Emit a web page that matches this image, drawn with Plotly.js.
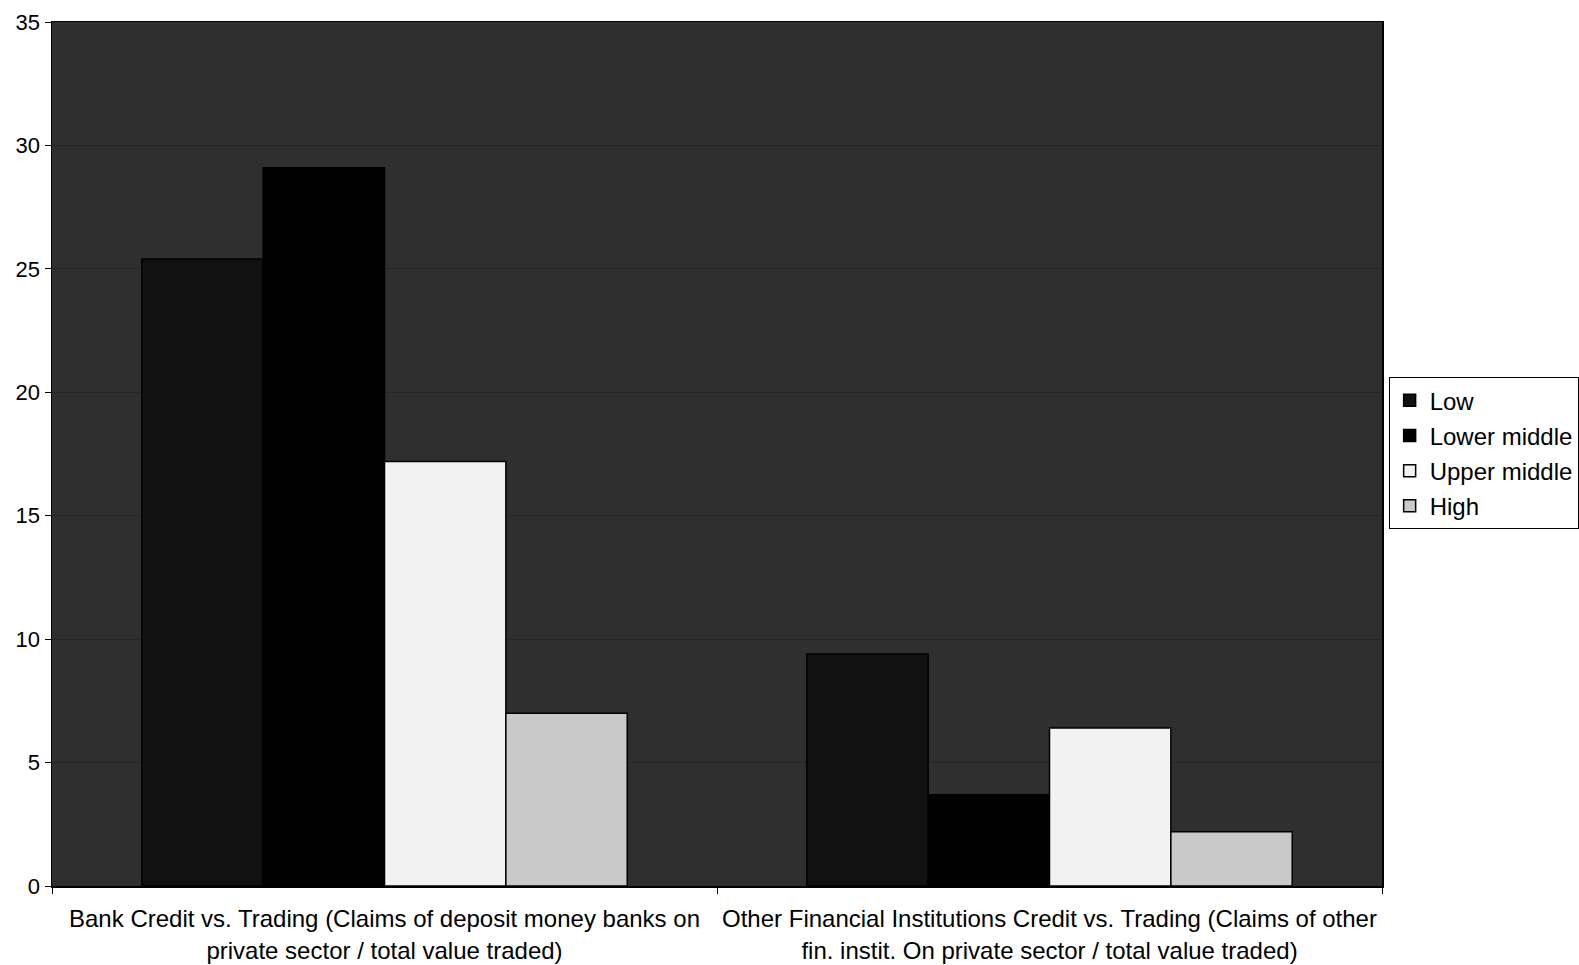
<!DOCTYPE html>
<html>
<head>
<meta charset="utf-8">
<script src="https://cdn.plot.ly/plotly-3.0.1.min.js"></script>
<style>
  html, body { margin: 0; padding: 0; background: #ffffff; }
  #chart { width: 1579px; height: 965px; }
</style>
</head>
<body>
<div id="chart"></div>
<script>
// Ratio of credit to value traded, by income group
const categories = [
  "Bank Credit vs. Trading (Claims of deposit money banks on<br>private sector / total value traded)",
  "Other Financial Institutions Credit vs. Trading (Claims of other<br>fin. instit. On private sector / total value traded)"
];
const seriesNames = ["Low", "Lower middle", "Upper middle", "High"];
const lowValues = [25.4, 9.4];
const lowerMiddleValues = [29.1, 3.7];
const upperMiddleValues = [17.2, 6.4];
const highValues = [7.0, 2.2];
const yTicks = [0, 5, 10, 15, 20, 25, 30, 35];

const seriesValues = [lowValues, lowerMiddleValues, upperMiddleValues, highValues];
const fills = ["#111111", "#020202", "#f2f2f2", "#c9c9c9"];

const traces = seriesNames.map((name, i) => ({
  type: "bar",
  name: name,
  legendgroup: "g" + i,
  x: categories,
  y: seriesValues[i],
  marker: { color: fills[i], line: { color: "#000000", width: 1.5 } },
  hoverinfo: "name+y"
}));

const layout = {
  width: 1579,
  height: 965,
  margin: { l: 52, r: 197, t: 22, b: 79, autoexpand: false },
  paper_bgcolor: "#ffffff",
  plot_bgcolor: "#2f2f2f",
  font: { family: "Liberation Sans, Arial, sans-serif", color: "#000000", size: 22 },
  barmode: "group",
  bargap: 0.27,
  bargroupgap: 0,
  showlegend: true,
  legend: {
    x: 1.005, xanchor: "left",
    y: 0.501, yanchor: "middle",
    bgcolor: "#ffffff",
    bordercolor: "#000000",
    borderwidth: 1,
    font: { size: 24, color: "#000000" },
    itemwidth: 30,
    tracegroupgap: 1
  },
  xaxis: {
    type: "category",
    automargin: false,
    showline: true, linecolor: "#000000", linewidth: 1.5,
    mirror: true,
    ticks: "outside", tickson: "boundaries", ticklen: 6, tickcolor: "#000000",
    tickangle: 0,
    ticklabelstandoff: 11,
    tickfont: { size: 24 },
    showgrid: false
  },
  yaxis: {
    range: [0, 35],
    automargin: false,
    tickvals: yTicks,
    ticktext: yTicks.map(String),
    showline: true, linecolor: "#000000", linewidth: 1.5,
    mirror: true,
    ticks: "outside", ticklen: 6, tickcolor: "#000000",
    tickfont: { size: 22 },
    showgrid: true, gridcolor: "#252525", gridwidth: 1,
    zeroline: false,
    fixedrange: true
  }
};

Plotly.newPlot("chart", traces, layout, { displayModeBar: false, staticPlot: true });
</script>
</body>
</html>
